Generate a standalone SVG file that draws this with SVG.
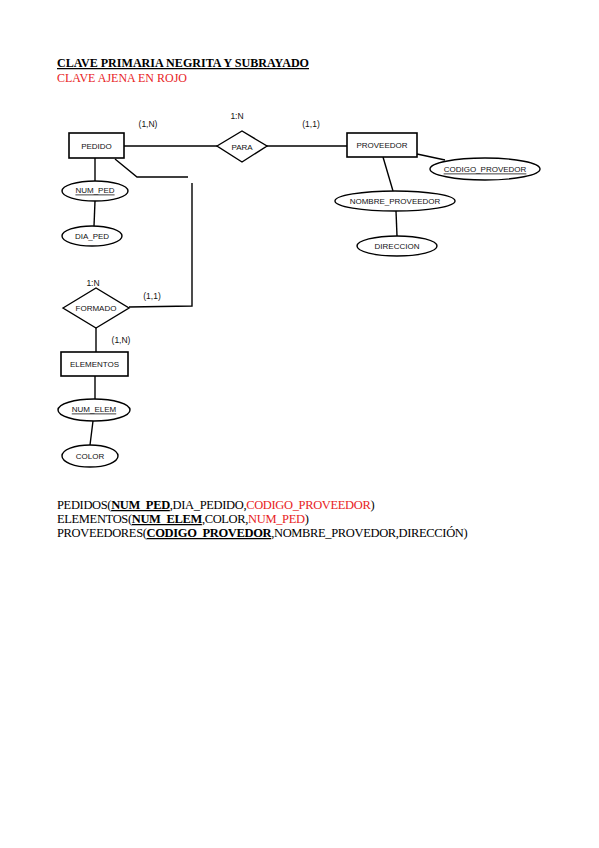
<svg xmlns="http://www.w3.org/2000/svg" width="599" height="848" viewBox="0 0 599 848">
<style>
.ent{fill:#fff;stroke:#000;stroke-width:1.6}
.att{fill:#fff;stroke:#000;stroke-width:1.4}
.rel{fill:#fff;stroke:#000;stroke-width:1.4}
.lbl{font-family:"Liberation Sans",Arial,sans-serif;font-size:8px;fill:#111;text-anchor:middle;dominant-baseline:central}
.card{font-family:"Liberation Sans",Arial,sans-serif;font-size:8.5px;fill:#111;text-anchor:middle;dominant-baseline:central}
.conn line,.conn polyline{stroke:#000;stroke-width:1.4;fill:none}
.doc{font-family:"Liberation Serif","Times New Roman",serif;font-size:12.5px;fill:#000}
.red{fill:#e8231e}
.b{font-weight:bold;text-decoration:underline}
</style>
<rect width="599" height="848" fill="#fff"/>
<text class="doc" x="57" y="67" font-weight="bold" text-decoration="underline" textLength="252" lengthAdjust="spacingAndGlyphs">CLAVE PRIMARIA NEGRITA Y SUBRAYADO</text>
<text class="doc red" x="57" y="82" textLength="130" lengthAdjust="spacingAndGlyphs">CLAVE AJENA EN ROJO</text>

<g class="conn" id="connectors">
<line x1="124" y1="146" x2="217" y2="146"/>
<line x1="267" y1="146" x2="347" y2="146"/>
<line x1="417" y1="154" x2="445" y2="160"/>
<line x1="383" y1="157" x2="393" y2="191"/>
<line x1="396" y1="211" x2="397" y2="236"/>
<line x1="95" y1="158" x2="95" y2="181"/>
<line x1="95" y1="201" x2="94" y2="226"/>
<polyline points="115,159 137,177 188,177"/>
<polyline points="192,183 192,306 129,307"/>
<line x1="96" y1="328" x2="96" y2="352"/>
<line x1="95" y1="376" x2="95" y2="399"/>
<line x1="93" y1="421" x2="90" y2="445"/>
</g>

<g id="pedido"><rect class="ent" x="69" y="133" width="55" height="25"/><text class="lbl" x="96.5" y="146">PEDIDO</text></g>
<g id="para"><polygon class="rel" points="217,146 242,131 267,146 242,162"/><text class="lbl" x="242" y="147">PARA</text></g>
<g id="proveedor"><rect class="ent" x="347" y="133" width="70" height="24"/><text class="lbl" x="382" y="145">PROVEEDOR</text></g>
<g id="codigo_provedor"><ellipse class="att" cx="485" cy="169" rx="55" ry="11"/><text class="lbl" x="485" y="169" text-decoration="underline">CODIGO_PROVEDOR</text></g>
<g id="nombre_proveedor"><ellipse class="att" cx="395" cy="201" rx="60" ry="10"/><text class="lbl" x="395" y="201">NOMBRE_PROVEEDOR</text></g>
<g id="direccion"><ellipse class="att" cx="397" cy="246" rx="40" ry="10"/><text class="lbl" x="397" y="246">DIRECCION</text></g>
<g id="num_ped"><ellipse class="att" cx="95" cy="191" rx="33" ry="10"/><text class="lbl" x="95" y="190" text-decoration="underline">NUM_PED</text></g>
<g id="dia_ped"><ellipse class="att" cx="92" cy="236" rx="30" ry="10"/><text class="lbl" x="92" y="236">DIA_PED</text></g>
<g id="formado"><polygon class="rel" points="63,308 96,288 129,308 96,328"/><text class="lbl" x="96" y="308">FORMADO</text></g>
<g id="elementos"><rect class="ent" x="61" y="352" width="67" height="24"/><text class="lbl" x="94.5" y="364">ELEMENTOS</text></g>
<g id="num_elem"><ellipse class="att" cx="94" cy="410" rx="36" ry="11"/><text class="lbl" x="94" y="409" text-decoration="underline">NUM_ELEM</text></g>
<g id="color"><ellipse class="att" cx="90" cy="456" rx="28" ry="11"/><text class="lbl" x="90" y="456">COLOR</text></g>

<g id="cardinalities">
<text class="card" x="148" y="124">(1,N)</text>
<text class="card" x="237" y="116">1:N</text>
<text class="card" x="311" y="124">(1,1)</text>
<text class="card" x="93" y="283">1:N</text>
<text class="card" x="152" y="296">(1,1)</text>
<text class="card" x="121" y="340">(1,N)</text>
</g>

<text class="doc" x="57" y="509" letter-spacing="-0.35">PEDIDOS(<tspan class="b">NUM_PED</tspan>,DIA_PEDIDO,<tspan class="red">CODIGO_PROVEEDOR</tspan>)</text>
<text class="doc" x="57" y="523" letter-spacing="-0.35">ELEMENTOS(<tspan class="b">NUM_ELEM</tspan>,COLOR,<tspan class="red">NUM_PED</tspan>)</text>
<text class="doc" x="57" y="537" letter-spacing="-0.35">PROVEEDORES(<tspan class="b">CODIGO_PROVEDOR</tspan>,NOMBRE_PROVEDOR,DIRECCIÓN)</text>
</svg>
